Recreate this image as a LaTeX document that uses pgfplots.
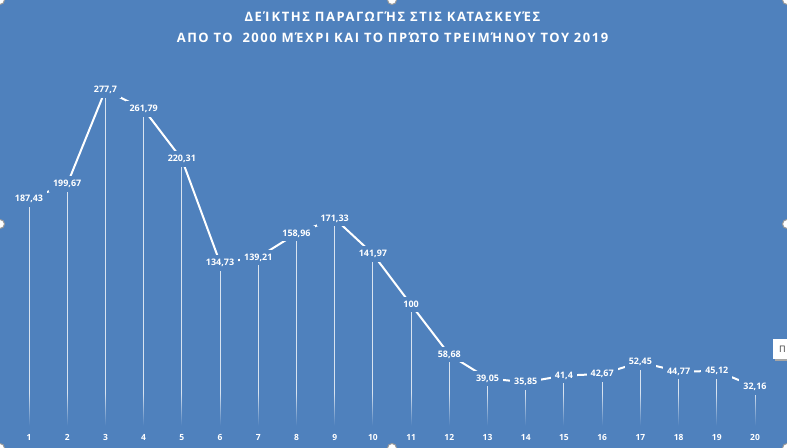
\documentclass[border=0pt]{standalone}
\usepackage{fontspec}
\setmainfont{Open Sans}
\newfontfamily\titlefont[LetterSpace=12]{Open Sans}
\usepackage{pgfplots}
\usepackage{pgfplotstable}
\pgfplotsset{compat=1.18}
\usetikzlibrary{fadings}
\definecolor{bg}{RGB}{79,129,189}

% index value label
\pgfplotstableread{
x  y       lab
1  187.43  187,43
2  199.67  199,67
3  277.7   277,7
4  261.79  261,79
5  220.31  220,31
6  134.73  134,73
7  139.21  139,21
8  158.96  158,96
9  171.33  171,33
10 141.97  141,97
11 100     100
12 58.68   58,68
13 39.05   39,05
14 35.85   35,85
15 41.4    41,4
16 42.67   42,67
17 52.45   52,45
18 44.77   44,77
19 45.12   45,12
20 32.16   32,16
}\data

\begin{document}
\begin{tikzpicture}[x=1bp,y=1bp]
\useasboundingbox (0,0) rectangle (787,448);
\fill[bg] (0,0) rectangle (787,448);

\node[text=white, font=\titlefont\bfseries\fontsize{13}{15}\selectfont] at (392.5,431.5)
  {ΔΕΊΚΤΗΣ ΠΑΡΑΓΩΓΉΣ ΣΤΙΣ ΚΑΤΑΣΚΕΥΈΣ};
\node[text=white, font=\titlefont\bfseries\fontsize{13}{15}\selectfont] at (392.5,410.5)
  {ΑΠΟ ΤΟ\ \ 2000 ΜΈΧΡΙ ΚΑΙ ΤΟ ΠΡΏΤΟ ΤΡΕΙΜΉΝΟΥ ΤΟΥ 2019};

\begin{axis}[
  at={(9.9bp,22.4bp)}, anchor=south west,
  scale only axis,
  width=764.2bp, height=365.6bp,
  xmin=0.5, xmax=20.5,
  ymin=0, ymax=302.5,
  hide y axis,
  axis x line*=bottom,
  x axis line style={draw=none},
  xtick={1,...,20},
  major tick length=0,
  xticklabel style={font=\bfseries\fontsize{8.5}{10}\selectfont, text=white,
    anchor=center, yshift=-11.5bp},
  /pgf/number format/assume math mode=true,
  clip=false,
]
% drop lines
\addplot[ycomb, draw=white, draw opacity=0.78, line width=1bp, no marks]
  table[x=x, y=y] {\data};
\fill[bg, path fading=north] (axis cs:0.5,0) rectangle (axis cs:20.5,27);

\addplot[white, line width=2bp, no marks,
  nodes near coords, point meta=explicit symbolic,
  every node near coord/.style={font=\bfseries\fontsize{9}{10}\selectfont,
    text=white, fill=bg, inner sep=4bp, anchor=center}]
  table[x=x, y=y, meta=lab] {\data};
\end{axis}

% legend box cut off by the right edge
\fill[black!35] (775,87) rectangle (802,107);
\fill[white] (773,89) rectangle (800,109);
\node[anchor=west, inner sep=0, text=black!80, font=\fontsize{9}{10}\selectfont] at (779,99) {Π};

% selection handles
\foreach \p in {(0,224),(787,224),(392,448),(392,0),(0,0),(787,0),(0,448),(787,448)}
  \filldraw[fill=white, draw=black!40, line width=1bp] \p circle (4.5);
\end{tikzpicture}
\end{document}
